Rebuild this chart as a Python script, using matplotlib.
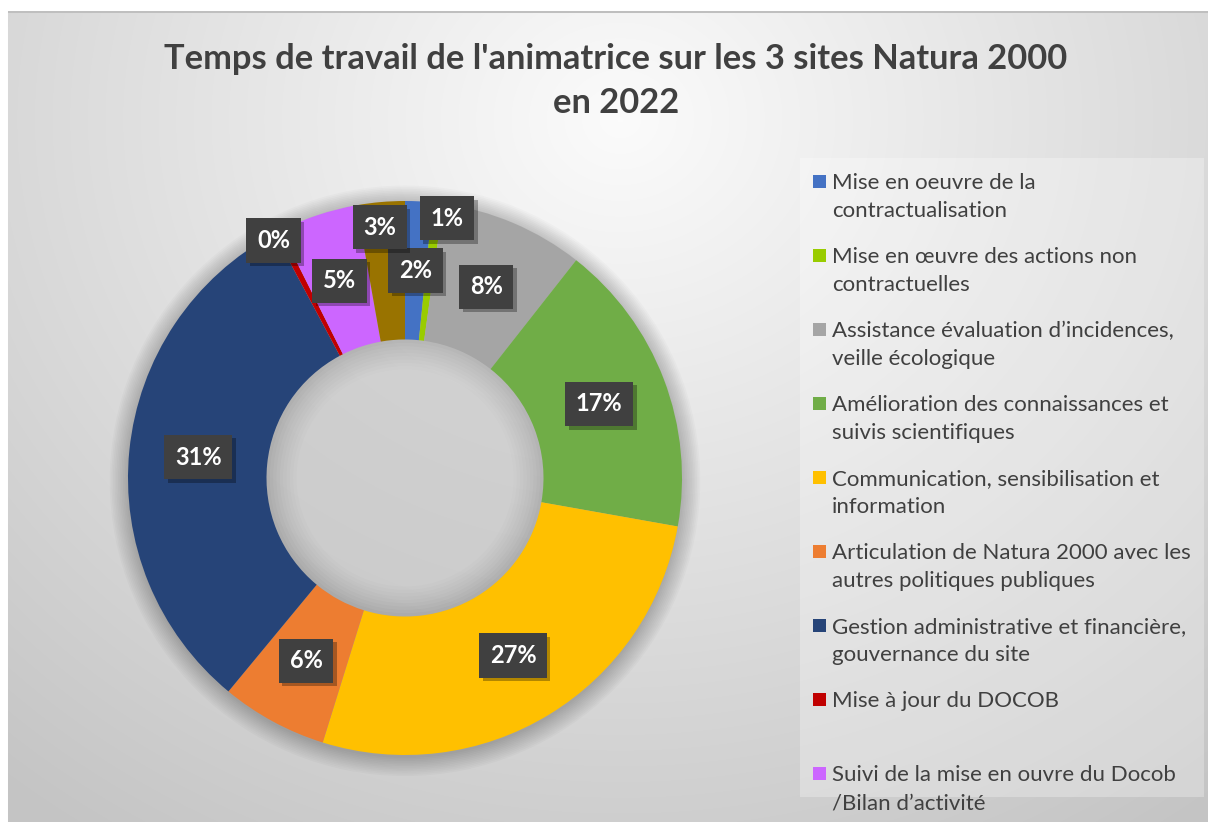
import numpy as np
import matplotlib.pyplot as plt
import matplotlib.patheffects as pe
from matplotlib.patches import Rectangle, Circle

plt.rcParams['font.family'] = ['Lato', 'DejaVu Sans']

# ===== data =====
categories = [
    "Mise en oeuvre de la\ncontractualisation",
    "Mise en œuvre des actions non\ncontractuelles",
    "Assistance évaluation d’incidences,\nveille écologique",
    "Amélioration des connaissances et\nsuivis scientifiques",
    "Communication, sensibilisation et\ninformation",
    "Articulation de Natura 2000 avec les\nautres politiques publiques",
    "Gestion administrative et financière,\ngouvernance du site",
    "Mise à jour du DOCOB",
    "Suivi de la mise en ouvre du Docob\n/Bilan d’activité",
    "Autre",
]
shares = [1.6, 0.6, 8.4, 17.2, 27.0, 6.2, 31.2, 0.4, 4.6, 2.8]
colors = ['#4472C4', '#99CC00', '#A5A5A5', '#70AD47', '#FFC000',
          '#ED7D31', '#264478', '#C00000', '#CC66FF', '#997300']
n_legend = 9  # last slice has no visible legend entry
title = "Temps de travail de l'animatrice sur les 3 sites Natura 2000\nen 2022"

# labels moved by hand in the original (index -> (radius, angle from top, clockwise))
label_moves = {1: (0.95, 9.2), 7: (0.98, -29.0), 9: (0.91, -5.7)}

W, H = 1208, 822
fig = plt.figure(figsize=(W / 100, H / 100), dpi=100)

# ===== background gradient =====
bg = fig.add_axes([0, 0, 1, 1])
yy, xx = np.mgrid[0:H, 0:W]
d = np.sqrt(((xx - 620) / 900.0) ** 2 + ((yy - 120) / 800.0) ** 2)
shade = np.clip(0.985 - 0.20 * d, 0.77, 0.985)
img = np.dstack([shade] * 3)
img[:12, :] = 1.0
img[:, :8] = 1.0
img[12:14, 8:] = 0.75
bg.imshow(img, extent=[0, W, H, 0], aspect='auto', interpolation='bilinear')
bg.set_xlim(0, W)
bg.set_ylim(H, 0)
bg.axis('off')
# legend panel
bg.add_patch(Rectangle((800, 158), 404, 639, facecolor='white', alpha=0.28,
                       edgecolor='none'))

# ===== donut =====
cx, cy, R = 405, 478, 277
ax = fig.add_axes([(cx - R) / W, (H - cy - R) / H, 2 * R / W, 2 * R / H])

wedges, _ = ax.pie(shares, colors=colors, startangle=90, counterclock=False,
                   radius=1.0, wedgeprops=dict(width=0.5, edgecolor='none'))
ax.set_xlim(-1, 1)
ax.set_ylim(-1, 1)
ax.set_aspect('equal')
ax.axis('off')

# soft shadow around the ring
for k in range(12):
    ax.add_patch(Circle((0, -0.01), 1.0 + 0.006 * k, facecolor='black',
                        alpha=0.018, edgecolor='none', zorder=0,
                        clip_on=False))

# inner hole shading
for k in range(10):
    ax.add_patch(Circle((0, 0), 0.5 - 0.012 * k, facecolor='white',
                        alpha=0.06, edgecolor='none', zorder=3))

total = sum(shares)
cum = 0.0
for i, v in enumerate(shares):
    mid = (cum + v / 2) / total * 360.0
    cum += v
    r, ang = 0.75, mid
    if i in label_moves:
        r, ang = label_moves[i]
    a = np.radians(ang)
    t = ax.text(r * np.sin(a), r * np.cos(a), f"{round(v / total * 100)}%",
                ha='center', va='center', color='white', fontsize=17,
                fontweight='bold', zorder=6,
                bbox=dict(boxstyle='square,pad=0.45', facecolor='#404040',
                          edgecolor='none'))
    t.get_bbox_patch().set_path_effects(
        [pe.withSimplePatchShadow(offset=(2.5, -2.5), shadow_rgbFace='black',
                                  alpha=0.3), pe.Normal()])

# ===== title =====
fig.text(616 / W, 1 - 81 / H, title, ha='center', va='center',
         fontsize=24.8, fontweight='bold', color='#404040', linespacing=1.45)

# ===== legend =====
for i in range(n_legend):
    y0 = 182 + 74 * i
    bg.add_patch(Rectangle((813, y0 - 7), 13, 13, facecolor=colors[i],
                           edgecolor='none'))
    bg.text(832, y0 - 9, categories[i], ha='left', va='top', fontsize=16,
            color='#404040', linespacing=1.5)

fig.savefig('out.png', dpi=100)
